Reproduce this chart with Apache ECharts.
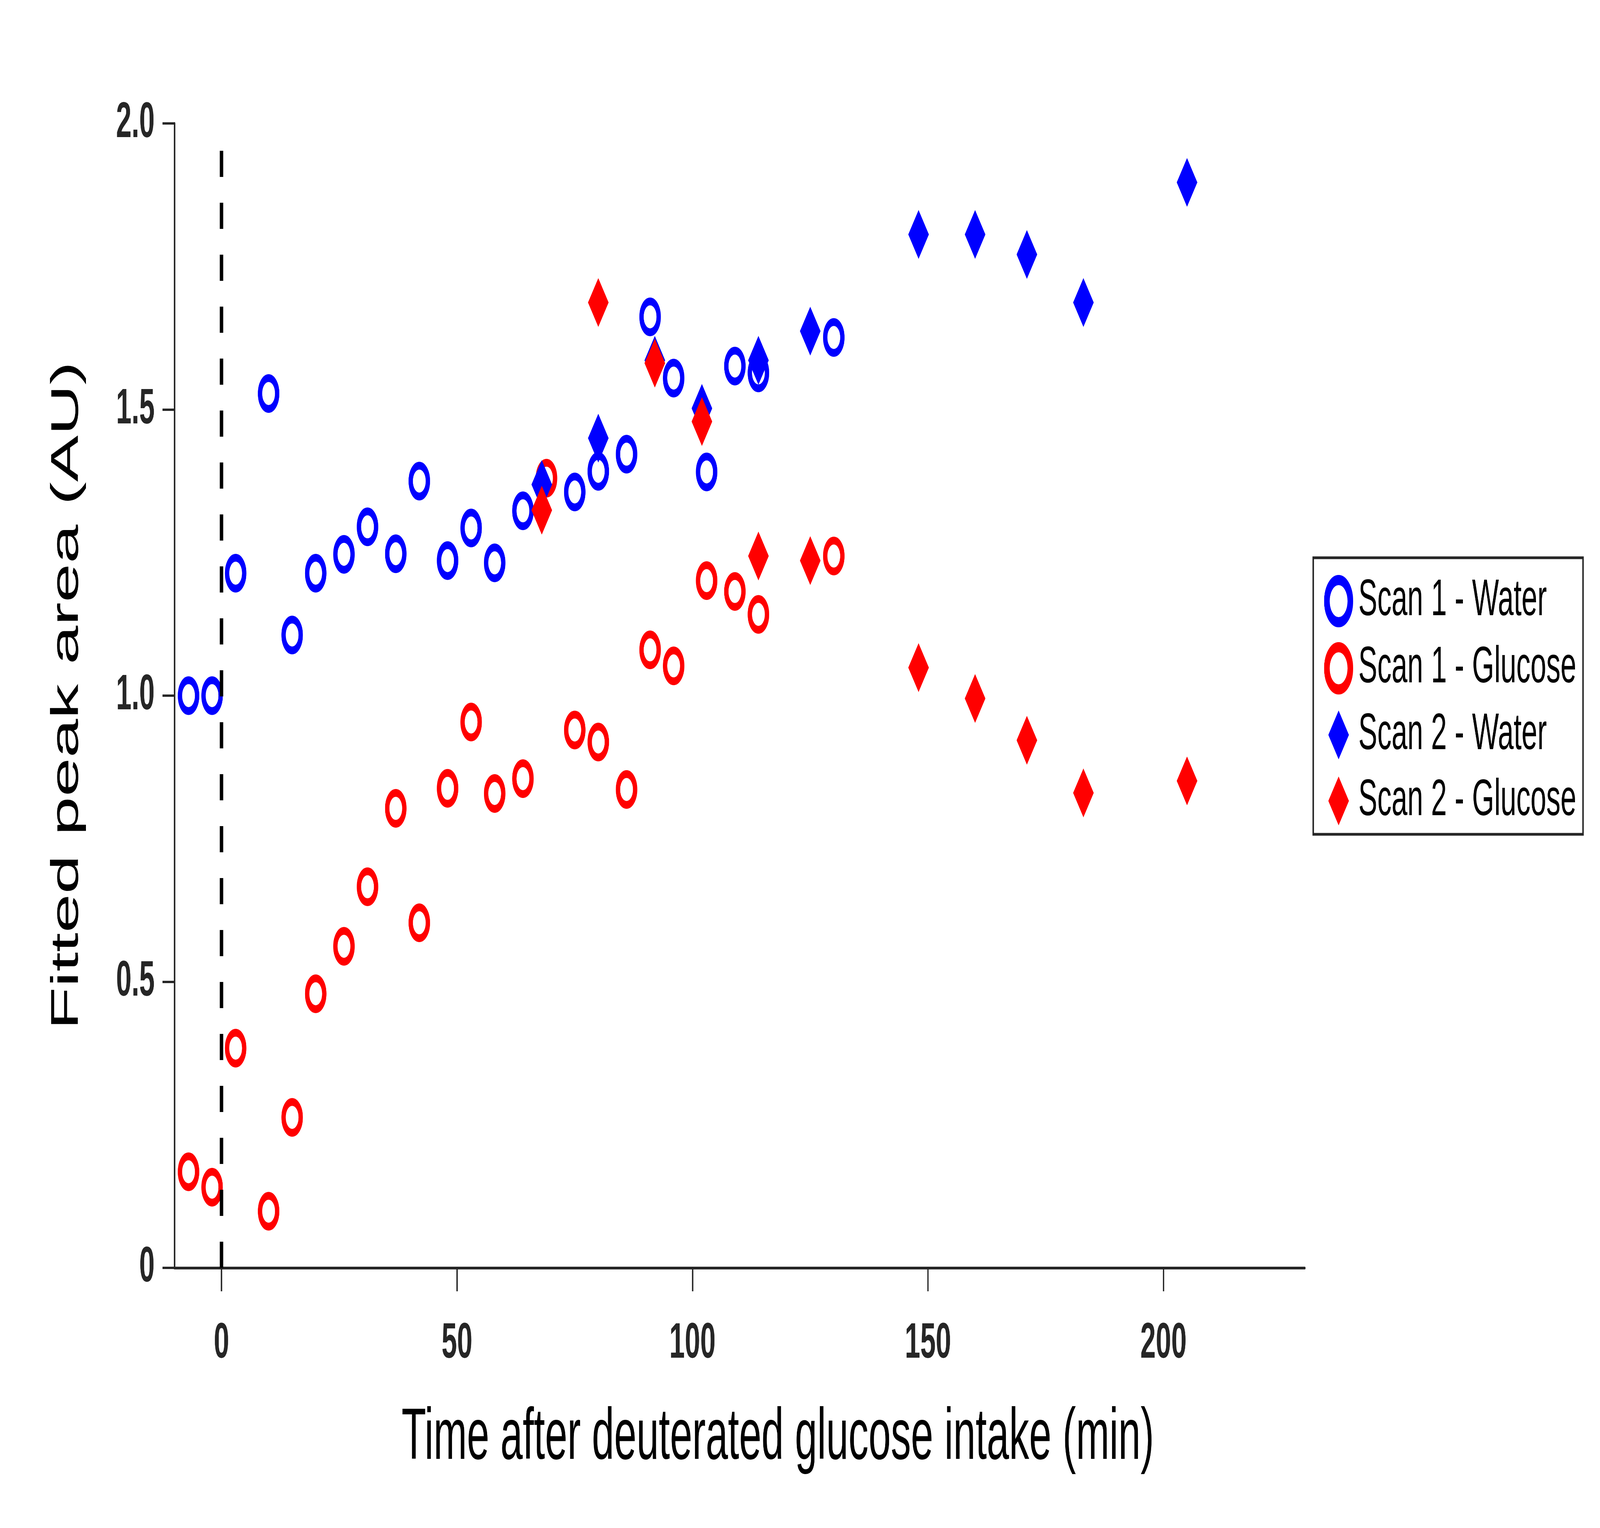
<!DOCTYPE html>
<html>
<head>
<meta charset="utf-8">
<script src="https://cdn.jsdelivr.net/npm/echarts@6/dist/echarts.min.js"></script>
<style>
html,body{margin:0;padding:0;background:#ffffff;overflow:hidden;width:100%;height:100%;}
#chart{position:absolute;left:0;top:0;width:7376px;height:3912px;transform-origin:0 0;}
</style>
</head>
<body>
<div id="chart"></div>
<script>
// ---- data ----
const scan1WaterX   = [-7, -2, 3, 10, 15, 20, 26, 31, 37, 42, 48, 53, 58, 64, 75, 80, 86, 91, 96, 103, 109, 114, 130];
const scan1WaterY   = [1.00, 1.00, 1.214, 1.528, 1.106, 1.214, 1.247, 1.295, 1.248, 1.375, 1.236, 1.293, 1.232, 1.323, 1.356, 1.392, 1.422, 1.662, 1.555, 1.391, 1.576, 1.564, 1.626];
const scan1GlucoseX = [-7, -2, 3, 10, 15, 20, 26, 31, 37, 42, 48, 53, 58, 64, 69, 75, 80, 86, 91, 96, 103, 109, 114, 130];
const scan1GlucoseY = [0.168, 0.141, 0.384, 0.099, 0.263, 0.479, 0.562, 0.666, 0.803, 0.603, 0.838, 0.954, 0.829, 0.855, 1.380, 0.940, 0.919, 0.836, 1.080, 1.052, 1.201, 1.182, 1.142, 1.244];
const scan2X        = [68, 80, 92, 102, 114, 125, 148, 160, 171, 183, 205];
const scan2WaterY   = [1.369, 1.450, 1.586, 1.502, 1.586, 1.637, 1.806, 1.806, 1.771, 1.687, 1.897];
const scan2GlucoseY = [1.324, 1.687, 1.581, 1.479, 1.244, 1.236, 1.049, 0.995, 0.922, 0.830, 0.851];
const xTickValues   = [0, 50, 100, 150, 200];
const dashX         = [0, 0];
const dashY         = [0, 1.956];
const seriesNames   = ['Scan 1 - Water', 'Scan 1 - Glucose', 'Scan 2 - Water', 'Scan 2 - Glucose'];

const BLUE = '#0000ff', RED = '#ff0000', AXIS = '#262626';
const zip = (xs, ys) => xs.map((x, i) => [x, ys[i]]);

// fit the 7376x3912 drawing to whatever viewport the browser really has
const el = document.getElementById('chart');
const vw = window.innerWidth || 7376, vh = window.innerHeight || 3912;
const sx = vw / 7376, sy = vh / 3912;
if (Math.abs(sx - 1) > 1e-3 || Math.abs(sy - 1) > 1e-3) {
  el.style.transform = 'scale(' + sx + ',' + sy + ')';
}

const chart = echarts.init(el, null, {renderer: 'canvas'});

const diamondPath = 'path://M0,-62.5L47.5,0L0,62.5L-47.5,0Z';
const ringStyle = c => ({color: 'rgba(0,0,0,0)', borderColor: c, borderWidth: 20, opacity: 1});

chart.setOption({
  animation: false,
  backgroundColor: '#ffffff',
  grid: {left: 804, right: 1361, top: 316, bottom: 666, containLabel: false},
  xAxis: {
    type: 'value', min: -10, max: 230,
    name: 'Time after deuterated glucose intake (min)',
    nameLocation: 'middle', nameGap: 345,
    nameTextStyle: {fontFamily: 'Liberation Sans', fontSize: 185, color: '#000', padding: [0, 0, 0, 352]},
    axisLine: {show: true, onZero: false, lineStyle: {color: AXIS, width: 7}},
    axisTick: {show: true, inside: false, length: 60, customValues: xTickValues, lineStyle: {color: AXIS, width: 6}},
    axisLabel: {show: true, customValues: xTickValues, margin: 131, fontFamily: 'Liberation Sans', fontWeight: 'bold', fontSize: 128, color: AXIS},
    splitLine: {show: false}
  },
  yAxis: {
    type: 'value', min: 0, max: 2, interval: 0.5,
    name: 'Fitted peak area (AU)',
    nameLocation: 'middle', nameGap: 405,
    nameTextStyle: {fontFamily: 'Liberation Sans', fontSize: 179, color: '#000'},
    axisLine: {show: true, onZero: false, lineStyle: {color: AXIS, width: 7}},
    axisTick: {show: true, inside: false, length: 55, lineStyle: {color: AXIS, width: 6}},
    axisLabel: {show: true, margin: 91, fontFamily: 'Liberation Sans', fontWeight: 'bold', fontSize: 128, color: AXIS,
      formatter: v => (v === 0 ? '0' : v.toFixed(1))},
    splitLine: {show: false}
  },
  legend: {
    orient: 'vertical', left: 6054, top: 1428,
    padding: [44, 31, 20, 50],
    itemWidth: 108, itemHeight: 125, itemGap: 38,
    borderColor: AXIS, borderWidth: 7, backgroundColor: '#ffffff',
    selectedMode: false,
    textStyle: {fontFamily: 'Liberation Sans', fontSize: 131, color: '#000', padding: [0, 0, 0, 32]},
    data: [
      {name: seriesNames[0], icon: 'circle', itemStyle: {color: 'rgba(0,0,0,0)', borderColor: BLUE, borderWidth: 26, opacity: 1}},
      {name: seriesNames[1], icon: 'circle', itemStyle: {color: 'rgba(0,0,0,0)', borderColor: RED, borderWidth: 26, opacity: 1}},
      {name: seriesNames[2], icon: diamondPath, itemStyle: {color: BLUE, borderWidth: 0, opacity: 1}},
      {name: seriesNames[3], icon: diamondPath, itemStyle: {color: RED, borderWidth: 0, opacity: 1}}
    ]
  },
  series: [
    {name: seriesNames[0], type: 'scatter', data: zip(scan1WaterX, scan1WaterY),
     symbol: 'circle', symbolSize: 79, itemStyle: ringStyle(BLUE), emphasis: {disabled: true}},
    {name: seriesNames[1], type: 'scatter', data: zip(scan1GlucoseX, scan1GlucoseY),
     symbol: 'circle', symbolSize: 79, itemStyle: ringStyle(RED), emphasis: {disabled: true}},
    {name: seriesNames[2], type: 'scatter', data: zip(scan2X, scan2WaterY),
     symbol: 'diamond', symbolSize: [95, 125], itemStyle: {color: BLUE, opacity: 1}, emphasis: {disabled: true}},
    {name: seriesNames[3], type: 'scatter', data: zip(scan2X, scan2GlucoseY),
     symbol: 'diamond', symbolSize: [95, 125], itemStyle: {color: RED, opacity: 1}, emphasis: {disabled: true}},
    {name: 'zero', type: 'line', data: zip(dashX, dashY), symbol: 'none', silent: true, z: 5,
     lineStyle: {color: '#000', width: 16, type: [67, 66]}}
  ]
});
</script>
</body>
</html>
